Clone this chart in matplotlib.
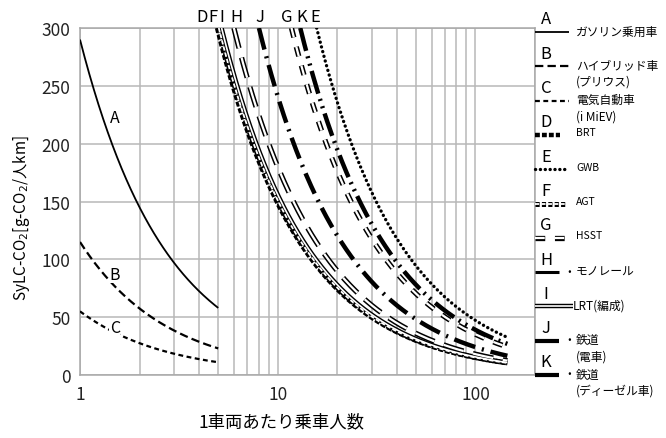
import numpy as np
import matplotlib
matplotlib.use('Agg')
from matplotlib import pyplot as plt
from matplotlib.ticker import LogLocator, NullFormatter, FixedLocator, FixedFormatter

plt.rcParams['font.family'] = ['Noto Sans CJK JP', 'DejaVu Sans']
plt.rcParams['lines.scale_dashes'] = False

# --- data -------------------------------------------------------------
# SyLC-CO2 per vehicle-km [g-CO2/km] (value at 1 rider)
letters = ['A', 'B', 'C', 'D', 'E', 'F', 'G', 'H', 'I', 'J', 'K']
co2_per_vehicle_km = [290, 115, 55, 1480, 4720, 1510, 3520, 1800, 1560, 2410, 3900]
riders_min = [1, 1, 1, None, None, None, None, None, None, None, None]
riders_max = [5, 5, 5, 145, 145, 145, 145, 145, 145, 145, 145]
names = ['ガソリン乗用車', 'ハイブリッド車\n(プリウス)', '電気自動車\n(i MiEV)', 'BRT', 'GWB',
         'AGT', 'HSST', '・モノレール', 'LRT(編成)', '・鉄道\n(電車)', '・鉄道\n(ディーゼル車)']
top_order = ['D', 'F', 'I', 'H', 'J', 'G', 'K', 'E']
top_label_x = [4.13, 4.69, 5.2, 6.2, 8.1, 11.1, 13.2, 15.4]

y_ticks = [0, 50, 100, 150, 200, 250, 300]
x_ticks = [1, 10, 100]

# --- styles -----------------------------------------------------------
styles = {
    'A': dict(lw=1.3, dashes=None),
    'B': dict(lw=1.6, dashes=(6, 3)),
    'C': dict(lw=1.6, dashes=(3.5, 2.5)),
    'D': dict(lw=3.2, dashes=(3.5, 1.5)),
    'E': dict(lw=2.4, dashes=(0.1, 3.4), cap='round'),
    'F': dict(lw=3.6, dashes=(3, 1.6), hollow=1.3),
    'G': dict(lw=3.8, dashes=(7, 7), hollow=1.6),
    'H': dict(lw=3.8, dashes=(15, 7), hollow=1.6),
    'I': dict(lw=3.2, dashes=None, hollow=1.2),
    'J': dict(lw=3.2, dashes=(16, 5, 1.5, 5)),
    'K': dict(lw=3.2, dashes=(17, 4, 1.5, 4, 1.5, 4)),
}
# the key panel shows the rail / monorail samples as plain bars
key_styles = dict(styles)
key_styles['H'] = dict(lw=2.2, dashes=None)
key_styles['J'] = dict(lw=3.0, dashes=None)
key_styles['K'] = dict(lw=3.0, dashes=None)


def draw(axis, x, y, st, z=3):
    kw = dict(solid_capstyle='butt', dash_capstyle=st.get('cap', 'butt'))
    line, = axis.plot(x, y, color='black', lw=st['lw'], zorder=z, **kw)
    if st['dashes'] is not None:
        line.set_dashes(st['dashes'])
    if 'hollow' in st:
        inner, = axis.plot(x, y, color='white', lw=st['hollow'], zorder=z + 0.1, **kw)
        if st['dashes'] is not None:
            inner.set_dashes(st['dashes'])


fig = plt.figure(figsize=(6.66, 4.39), dpi=100)
W, H = 666, 439
ax = fig.add_axes([80 / W, 1 - 376 / H, (535 - 80) / W, (376 - 29) / H])
ax.set_xscale('log')
ax.set_xlim(1, 200)
ax.set_ylim(0, 300)

ax.xaxis.set_major_locator(FixedLocator(x_ticks))
ax.xaxis.set_major_formatter(FixedFormatter([str(v) for v in x_ticks]))
ax.xaxis.set_minor_locator(LogLocator(subs=range(2, 10)))
ax.xaxis.set_minor_formatter(NullFormatter())
ax.set_yticks(y_ticks)
ax.tick_params(which='both', length=0, labelsize=12.5, colors='#222222')
ax.tick_params(axis='x', pad=7)
ax.tick_params(axis='y', pad=7)
ax.grid(which='both', color='#b8b8b8', lw=1.1, zorder=0)
for s in ax.spines.values():
    s.set_color('#a8a8a8')
    s.set_linewidth(1.1)

for i, key in enumerate(letters):
    k = co2_per_vehicle_km[i]
    lo = riders_min[i] if riders_min[i] is not None else k / 300
    x = np.geomspace(lo, riders_max[i], 300)
    draw(ax, x, k / x, styles[key])

# curve letters for cars
for key, yv in zip(['A', 'B', 'C'], [223, 87, 41]):
    ax.text(1.5, yv, key, fontsize=11.5, ha='center', va='center', zorder=5,
            bbox=dict(facecolor='white', edgecolor='none', pad=0.3))

# letters above the plot
for key, xv in zip(top_order, top_label_x):
    ax.text(xv, 1.032, key, fontsize=12, ha='center', va='center',
            transform=ax.get_xaxis_transform())

fig.text(282 / W, 1 - 422 / H, '1車両あたり乗車人数', fontsize=12.5, ha='center', va='center')
fig.text(22 / W, 1 - 218 / H, 'SyLC-CO$_2$[g-CO$_2$/人km]', fontsize=11, rotation=90,
         ha='center', va='center')

# --- legend panel at right ---------------------------------------------
leg = fig.add_axes([0, 0, 1, 1], facecolor='none')
leg.set_xlim(0, W)
leg.set_ylim(H, 0)
leg.axis('off')
line_end = {'H': 559, 'J': 559, 'K': 559, 'D': 560, 'F': 565, 'I': 573}
for i, key in enumerate(letters):
    ly = 20 + 34.3 * i
    sy = ly + 13
    leg.text(546, ly, key, fontsize=12, ha='center', va='center')
    xe = line_end.get(key, 569)
    draw(leg, [535, xe], [sy, sy], key_styles[key])
    label = names[i]
    tx = 573 if key == 'I' else 576
    if label.startswith('・'):
        leg.text(563, sy - 7.5, '・', fontsize=8.5, ha='left', va='top')
        label = label[1:]
    latin = label.isascii()
    leg.text(tx, sy - 7.5, label, fontsize=7.5 if latin else 8.5, ha='left', va='top',
             linespacing=1.3)

fig.savefig('out.png', dpi=100)
